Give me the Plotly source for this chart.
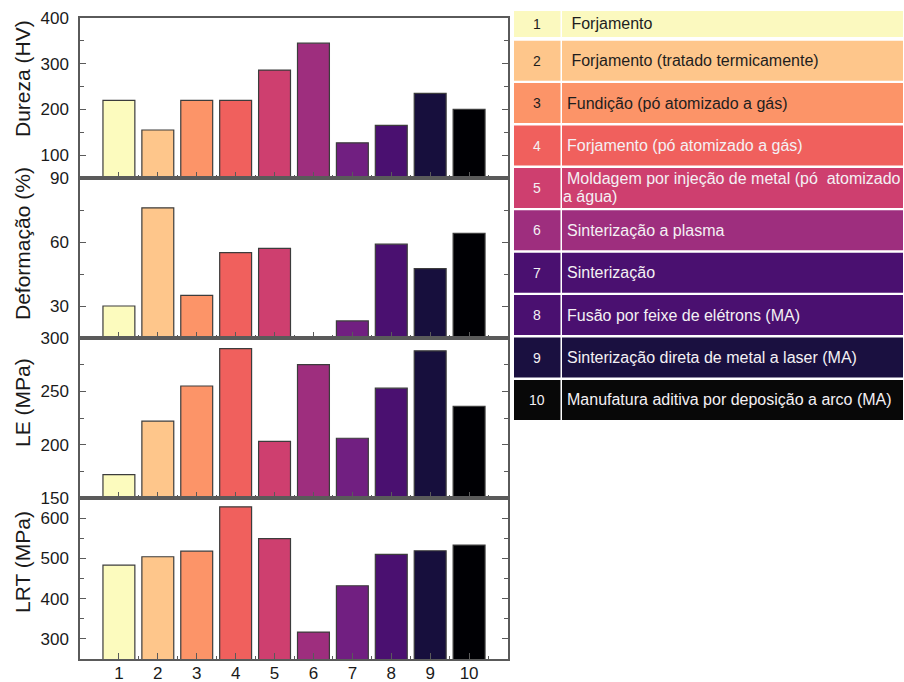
import plotly.graph_objects as go
from plotly.subplots import make_subplots

# ---- data ---------------------------------------------------------------
categorias = [1, 2, 3, 4, 5, 6, 7, 8, 9, 10]
rotulos_x = ["1", "2", "3", "4", "5", "6", "7", "8", "9", "10"]

dureza = [220, 155, 220, 220, 286, 345, 127, 165, 235, 200]          # HV
deformacao = [30, 76, 35, 55, 57, None, 23, 59, 47.5, 64]             # %
le = [172, 222, 255, 290, 203, 275, 206, 253, 288, 236]               # MPa
lrt = [483, 504, 518, 628, 549, 317, 432, 510, 519, 533]              # MPa

processos = [
    " Forjamento",
    " Forjamento (tratado termicamente)",
    "Fundição (pó atomizado a gás)",
    "Forjamento (pó atomizado a gás)",
    "Moldagem por injeção de metal (pó  atomizado<br>a água)",
    "Sinterização a plasma",
    "Sinterização",
    "Fusão por feixe de elétrons (MA)",
    "Sinterização direta de metal a laser (MA)",
    "Manufatura aditiva por deposição a arco (MA)",
]

cores_barras = ["#FCFBBE", "#FEC68B", "#FC9468", "#F0605D", "#CE3F6F",
                "#9E2E7E", "#711F81", "#4A1070", "#170F3D", "#000004"]
cores_tabela = ["#FBF9BF", "#FEC68B", "#FC9468", "#F0605D", "#CE3F6F",
                "#9E2E7E", "#4A1070", "#4A1070", "#1A1040", "#080808"]

titulos_y = ["Dureza (HV)", "Deformação (%)", "LE (MPa)", "LRT (MPa)"]
faixas_y = [[50, 400], [15, 90], [150, 300], [250, 650]]
ticks_y = [[100, 200, 300, 400], [30, 60, 90], [150, 200, 250, 300], [300, 400, 500, 600]]
ticks_menores_y = [[150, 250, 350], [45, 75], [175, 225, 275], [350, 450, 550]]

# ---- page geometry (pixels) --------------------------------------------
W, H = 904, 682
PX_L, PX_R = 80, 508
bordas = [18, 178, 338, 498, 659]
centros_titulo = [79, 244, 403, 562]


def fx(px):
    return px / W


def fy(py):
    return 1 - py / H


FONTE = "Arial, Liberation Sans, sans-serif"
COR_EIXO = "#5a5a5a"

fig = make_subplots(rows=4, cols=1, shared_xaxes=True, vertical_spacing=0)

series = [dureza, deformacao, le, lrt]
for i, valores in enumerate(series):
    fig.add_trace(
        go.Bar(
            x=categorias,
            y=valores,
            width=0.82,
            marker=dict(color=cores_barras, line=dict(color="#3c3c3c", width=1.2)),
            showlegend=False,
            hoverinfo="x+y",
        ),
        row=i + 1,
        col=1,
    )

for i in range(4):
    r = i + 1
    fig.update_yaxes(
        range=faixas_y[i],
        tickvals=ticks_y[i],
        ticks="inside",
        ticklen=6,
        tickwidth=1.2,
        tickcolor=COR_EIXO,
        showline=True,
        linecolor=COR_EIXO,
        linewidth=1.5,
        mirror="ticks",
        showgrid=False,
        zeroline=False,
        tickfont=dict(family=FONTE, size=17, color="#1a1a1a"),
        ticklabelstandoff=6,
        minor=dict(tickvals=ticks_menores_y[i], ticks="inside", ticklen=4,
                   tickwidth=1.2, tickcolor=COR_EIXO, showgrid=False),
        domain=[fy(bordas[i + 1]), fy(bordas[i])],
        automargin=False,
        row=r,
        col=1,
    )
    fig.update_xaxes(
        range=[0, 11],
        tickvals=categorias,
        ticktext=rotulos_x,
        ticks="inside",
        ticklen=6,
        tickwidth=1.2,
        tickcolor=COR_EIXO,
        showline=True,
        linecolor=COR_EIXO,
        linewidth=1.5,
        mirror=True,
        showgrid=False,
        zeroline=False,
        showticklabels=(r == 4),
        tickfont=dict(family=FONTE, size=17, color="#1a1a1a"),
        ticklabelstandoff=-2,
        minor=dict(tickvals=[c + 0.5 for c in [-1] + categorias], ticks="inside",
                   ticklen=3, tickwidth=1.2, tickcolor=COR_EIXO, showgrid=False),
        domain=[fx(PX_L), fx(PX_R)],
        automargin=False,
        row=r,
        col=1,
    )
    fig.add_annotation(
        text=titulos_y[i], textangle=-90,
        x=fx(22), y=fy(centros_titulo[i]), xref="paper", yref="paper",
        xanchor="center", yanchor="middle", showarrow=False,
        font=dict(family=FONTE, size=21, color="#1a1a1a"),
    )

# ---- process table on the right --------------------------------------------
TAB_L, TAB_DIV, TAB_R = 514, 561, 903
linhas = []
for k in range(10):
    if k == 0:
        topo, base = 11, 37
    else:
        topo = 40.7 + (k - 1) * 42.4
        base = topo + 40
    linhas.append((topo, base))

for k, (topo, base) in enumerate(linhas):
    cor = cores_tabela[k]
    for x0, x1 in [(TAB_L, TAB_DIV - 0.5), (TAB_DIV + 1, TAB_R)]:
        fig.add_shape(type="rect", xref="paper", yref="paper",
                      x0=fx(x0), x1=fx(x1), y0=fy(base), y1=fy(topo),
                      fillcolor=cor, line=dict(width=0), layer="below")
    cor_texto = "#1e1e1e" if k < 3 else "#f4f0f4"
    meio = (topo + base) / 2
    fig.add_annotation(text=str(categorias[k]), x=fx(537), y=fy(meio),
                       xref="paper", yref="paper", xanchor="center", yanchor="middle",
                       showarrow=False, font=dict(family=FONTE, size=14, color=cor_texto))
    partes = processos[k].split("<br>")
    if len(partes) == 1:
        posicoes = [(565, meio)]
    else:
        posicoes = [(565, meio - 9), (561, meio + 9)]
    for texto, (px, py) in zip(partes, posicoes):
        fig.add_annotation(text=texto, x=fx(px), y=fy(py),
                           xref="paper", yref="paper", xanchor="left", yanchor="middle",
                           align="left", showarrow=False,
                           font=dict(family=FONTE, size=16, color=cor_texto))

fig.update_layout(
    width=W,
    height=H,
    margin=dict(l=0, r=0, t=0, b=0),
    paper_bgcolor="white",
    plot_bgcolor="white",
    bargap=0.18,
)

fig.write_html("out.html")
